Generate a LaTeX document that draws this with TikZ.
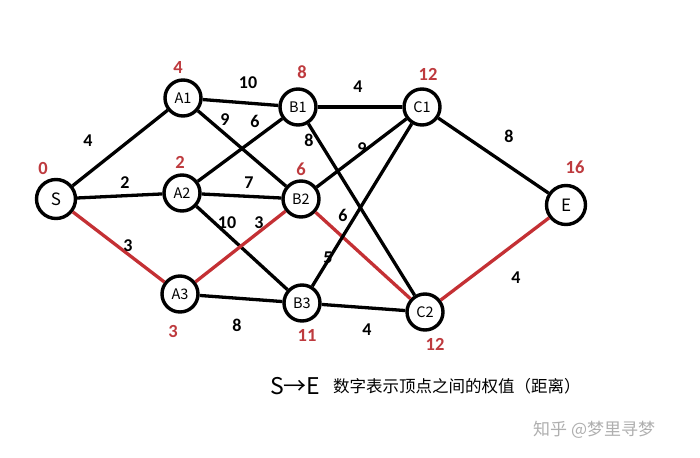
\documentclass[tikz,border=0pt]{standalone}
\usepackage{fontspec}
\setmainfont{Liberation Sans}
\newfontfamily\cjk{Noto Sans CJK SC}
\newfontfamily\numfont{Carlito}
\begin{document}
\begin{tikzpicture}[x=1pt,y=-1pt,
  vtx/.style={circle,draw=black,line width=3.4pt,fill=white,minimum size=36pt,inner sep=0pt,font=\cjk\fontsize{14.5}{14.5}\selectfont},
  bigvtx/.style={vtx,minimum size=39pt,font=\cjk\fontsize{17}{17}\selectfont},
  edge/.style={line width=3.3pt,draw=black},
  redge/.style={line width=3.3pt,draw=redline},
  wlab/.style={font=\numfont\bfseries\fontsize{18}{18}\selectfont,text=black,inner sep=0pt},
  dlab/.style={font=\numfont\bfseries\fontsize{18.5}{18.5}\selectfont,text=redlab,inner sep=0pt}]
\definecolor{redline}{RGB}{196,48,52}
\definecolor{redlab}{RGB}{190,58,62}
\useasboundingbox[fill=white] (0,0) rectangle (700,457);
% vertices
\node[bigvtx] (S) at (56,199) {S};
\node[vtx] (A1) at (183,98) {A1};
\node[vtx] (A2) at (182,193) {A2};
\node[vtx] (A3) at (180,294) {A3};
\node[vtx] (B1) at (298,107) {B1};
\node[vtx] (B2) at (301,199) {B2};
\node[vtx] (B3) at (302,303) {B3};
\node[vtx] (C1) at (422,107) {C1};
\node[vtx] (C2) at (425,312) {C2};
\node[bigvtx] (E) at (566,205) {E};
% edges
\draw[edge] (S) -- (A1);
\draw[edge] (S) -- (A2);
\draw[redge] (S) -- (A3);
\draw[edge] (A1) -- (B1);
\draw[edge] (A1) -- (B2);
\draw[edge] (A2) -- (B1);
\draw[edge] (A2) -- (B2);
\draw[edge] (A2) -- (B3);
\draw[redge] (A3) -- (B2);
\draw[edge] (A3) -- (B3);
\draw[edge] (B1) -- (C1);
\draw[edge] (B1) -- (C2);
\draw[edge] (B2) -- (C1);
\draw[redge] (B2) -- (C2);
\draw[edge] (B3) -- (C1);
\draw[edge] (B3) -- (C2);
\draw[edge] (C1) -- (E);
\draw[redge] (C2) -- (E);
% distance labels
\node[dlab] (dS) at (43,168) {0};
\node[dlab] (dA1) at (178,67) {4};
\node[dlab] (dB1) at (302,72) {8};
\node[dlab] (dA2) at (180,162) {2};
\node[dlab] (dB2) at (301,169) {6};
\node[dlab] (dC1) at (428,74) {12};
\node[dlab] (dE) at (575,167) {16};
\node[dlab] (dA3) at (173,331) {3};
\node[dlab] (dB3) at (307,335) {11};
\node[dlab] (dC2) at (435,344) {12};
% weight labels
\node[wlab] (wSA1) at (88,141) {4};
\node[wlab] (wA1B1) at (248,83) {10};
\node[wlab] (wA1B2) at (225,120) {9};
\node[wlab] (wA2B1) at (255,121) {6};
\node[wlab] (wB1C2) at (309,140) {8};
\node[wlab] (wSA2) at (125,183) {2};
\node[wlab] (wA2B2) at (249,183) {7};
\node[wlab] (wA2B3) at (227,223) {10};
\node[wlab] (wA3B2) at (259,223) {3};
\node[wlab] (wSA3) at (128,246) {3};
\node[wlab] (wA3B3) at (237,325) {8};
\node[wlab] (wB3C1) at (328,258) {5};
\node[wlab] (wB1C1) at (358,87) {4};
\node[wlab] (wB2C1) at (362,149) {9};
\node[wlab] (wC1E) at (509,136) {8};
\node[wlab] (wB2C2) at (343,215) {6};
\node[wlab] (wC2E) at (516,278) {4};
\node[wlab] (wB3C2) at (367,330) {4};
% caption
\node[anchor=west,inner sep=0pt,font=\cjk\fontsize{23}{23}\selectfont] (se) at (270,386) {S→E};
\node[anchor=west,inner sep=0pt,font=\cjk\fontsize{16.5}{16.5}\selectfont] (cap) at (333,386) {数字表示顶点之间的权值（距离）};
\node[anchor=west,inner sep=0pt,text={rgb,255:red,175;green,175;blue,175},font=\cjk\fontsize{17}{17}\selectfont] (wm) at (533,430) {知乎 @梦里寻梦};
\end{tikzpicture}
\end{document}
